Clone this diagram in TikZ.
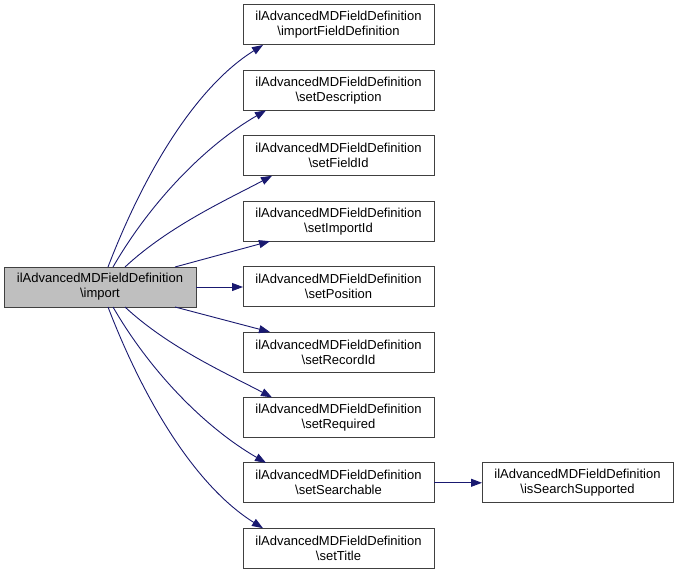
\documentclass[tikz,border=0pt]{standalone}
\usepackage{fontspec}
\setmainfont{Liberation Sans}
\usetikzlibrary{arrows.meta,calc}
\definecolor{edgeblue}{HTML}{191970}
\definecolor{boxline}{HTML}{404040}
\definecolor{boxgray}{HTML}{BFBFBF}
\tikzset{
  fnbox/.style={draw=boxline, line width=1pt, fill=white, minimum width=191pt, minimum height=40pt,
    inner sep=0pt, outer sep=0pt, align=center, font=\fontsize{13}{15}\selectfont},
  curbox/.style={fnbox, fill=boxgray, minimum width=192pt},
  calledge/.style={draw=edgeblue, line width=0.9pt, -{Triangle[length=11pt,width=8pt]}, color=edgeblue}
}
\begin{document}
\begin{tikzpicture}[x=1pt,y=1pt]
\useasboundingbox (0,0) rectangle (679,-575);
\node[curbox] (imp) at (100,-287) {ilAdvancedMDFieldDefinition\\\textbackslash import};
\node[fnbox] (t1) at (338.5,-25) {ilAdvancedMDFieldDefinition\\\textbackslash importFieldDefinition};
\node[fnbox] (t2) at (338.5,-90.4) {ilAdvancedMDFieldDefinition\\\textbackslash setDescription};
\node[fnbox] (t3) at (338.5,-155.8) {ilAdvancedMDFieldDefinition\\\textbackslash setFieldId};
\node[fnbox] (t4) at (338.5,-221.2) {ilAdvancedMDFieldDefinition\\\textbackslash setImportId};
\node[fnbox] (t5) at (338.5,-286.6) {ilAdvancedMDFieldDefinition\\\textbackslash setPosition};
\node[fnbox] (t6) at (338.5,-352) {ilAdvancedMDFieldDefinition\\\textbackslash setRecordId};
\node[fnbox] (t7) at (338.5,-417.4) {ilAdvancedMDFieldDefinition\\\textbackslash setRequired};
\node[fnbox] (t8) at (338.5,-482.8) {ilAdvancedMDFieldDefinition\\\textbackslash setSearchable};
\node[fnbox] (t9) at (338.5,-548.2) {ilAdvancedMDFieldDefinition\\\textbackslash setTitle};
\node[fnbox] (iss) at (577.5,-482.8) {ilAdvancedMDFieldDefinition\\\textbackslash isSearchSupported};

% upper edges
\draw[calledge] ($(imp.north)+(8,0)$) .. controls +(69:100) and +(212:80) .. ($(t1.south west)+(20,0)$);
\draw[calledge] ($(imp.north)+(13,0)$) .. controls +(60:75) and +(210:70) .. ($(t2.south west)+(23,0)$);
\draw[calledge] ($(imp.north)+(25,0)$) .. controls +(43:60) and +(208:50) .. ($(t3.south west)+(29,0)$);
\draw[calledge] ($(imp.north)+(75,0)$) -- ($(t4.south west)+(27,0)$);
% middle
\draw[calledge] (imp.east) -- (imp.east -| t5.west);
% lower edges
\draw[calledge] ($(imp.south)+(75,0)$) -- ($(t6.north west)+(27,0)$);
\draw[calledge] ($(imp.south)+(25,0)$) .. controls +(-43:60) and +(152:50) .. ($(t7.north west)+(29,0)$);
\draw[calledge] ($(imp.south)+(13,0)$) .. controls +(-60:75) and +(150:70) .. ($(t8.north west)+(23,0)$);
\draw[calledge] ($(imp.south)+(8,0)$) .. controls +(-69:100) and +(148:80) .. ($(t9.north west)+(20,0)$);
\draw[calledge] (t8.east) -- (iss.west);
\end{tikzpicture}
\end{document}
